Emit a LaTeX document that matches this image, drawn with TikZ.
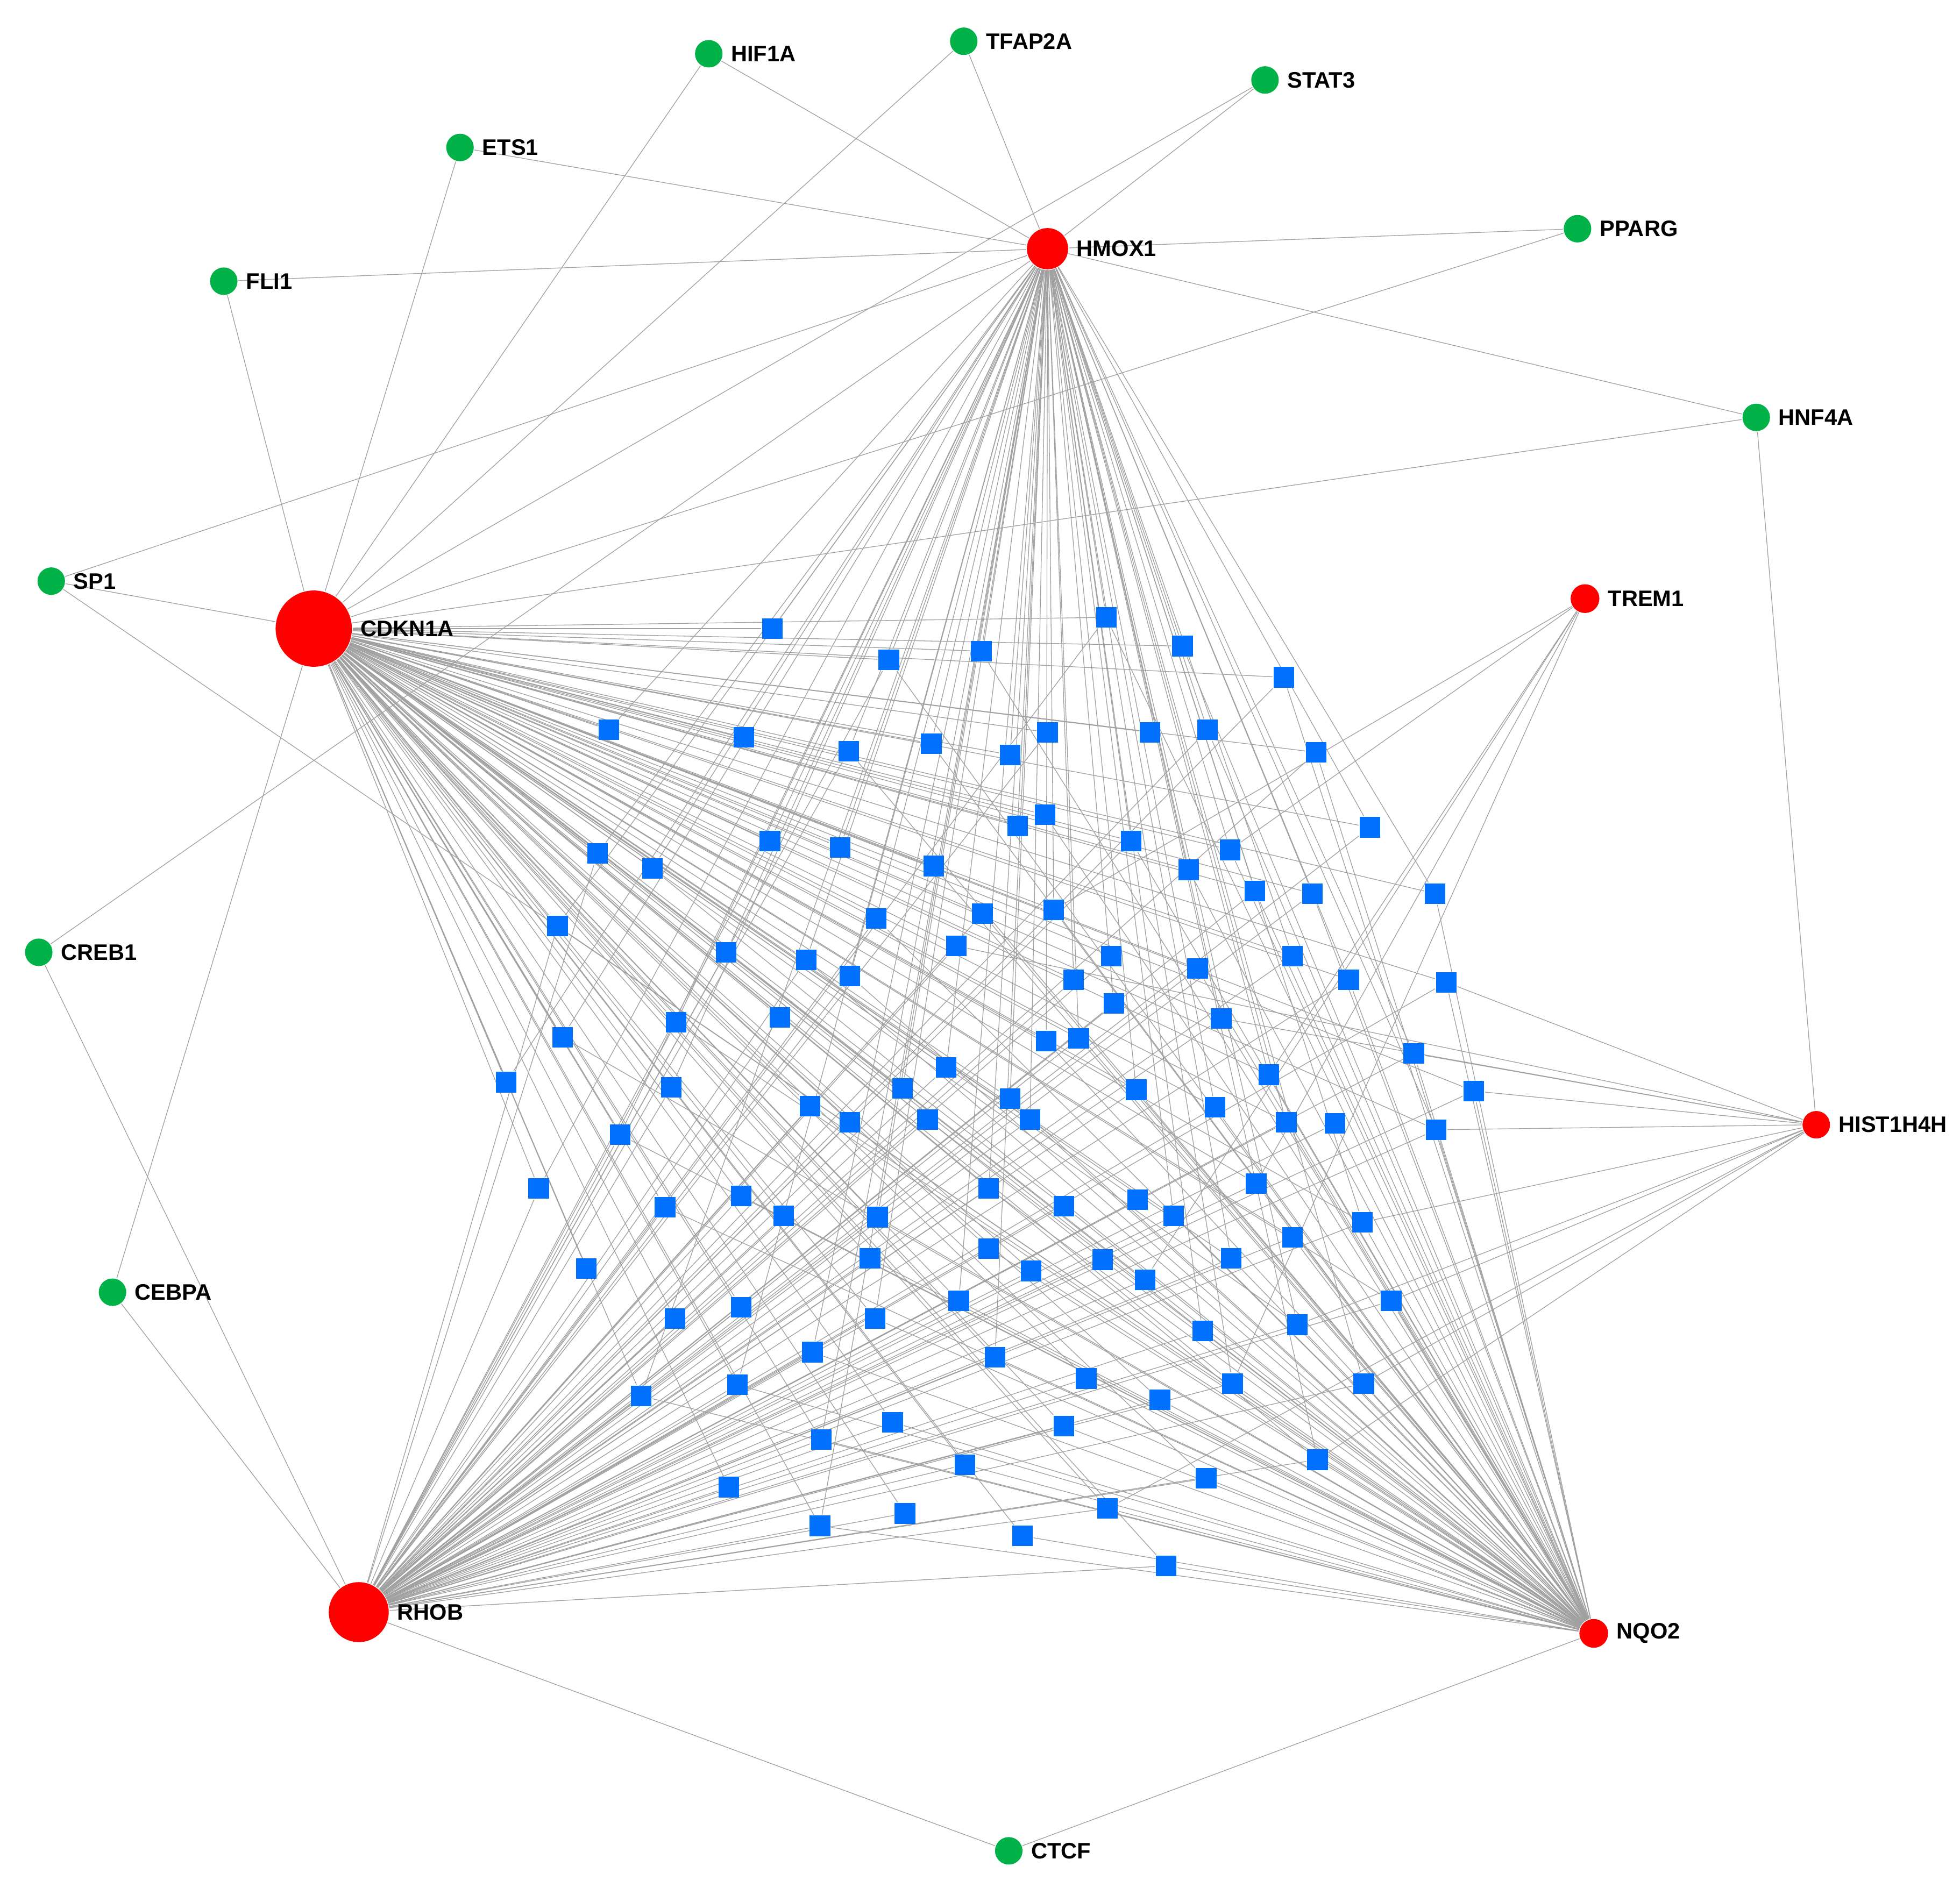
\documentclass[tikz,border=0pt]{standalone}
\usepackage{fontspec}
\setmainfont{Liberation Sans}
\pgfdeclarelayer{bg}
\pgfsetlayers{bg,main}
\definecolor{tfgreen}{RGB}{0,178,72}
\definecolor{mirblue}{RGB}{0,112,255}
\definecolor{edgegray}{RGB}{160,160,160}
\def\mirlist{1/885/494,2/618/503,3/946/517,4/785/521,5/711/528,6/1027/542,7/487/584,8/838/586,9/920/586,10/966/584,
11/595/590,12/745/595,13/679/601,14/808/604,15/1053/602,16/836/652,17/814/661,18/1096/662,19/616/673,20/905/673,
21/672/678,22/984/680,23/478/683,24/747/693,25/522/695,26/951/696,27/1004/713,28/1050/715,29/1148/715,30/843/728,
31/786/731,32/701/735,33/446/741,34/765/757,35/581/762,36/889/765,37/1034/765,38/645/768,39/958/775,40/680/781,
41/859/784,42/1079/784,43/1157/786,44/891/803,45/977/815,46/541/818,47/624/814,48/450/830,49/863/831,50/837/833,
51/1131/843,52/757/854,53/1015/860,54/405/866,55/537/870,56/722/871,57/909/872,58/1179/873,59/808/879,60/648/885,
61/972/886,62/824/896,63/742/896,64/680/898,65/1029/898,66/1068/899,67/1149/904,68/496/908,69/431/951,70/791/951,
71/1005/947,72/593/957,73/910/960,74/851/965,75/532/966,76/627/973,77/702/974,78/939/973,79/1090/978,80/1034/990,
81/791/999,82/696/1007,83/882/1008,84/985/1007,85/469/1015,86/825/1017,87/916/1024,88/767/1041,89/1113/1041,90/593/1046,
91/540/1055,92/700/1055,93/1038/1060,94/962/1065,95/650/1082,96/796/1086,97/869/1103,98/986/1107,99/1091/1107,100/590/1108,
101/513/1117,102/928/1120,103/714/1138,104/851/1141,105/657/1152,106/1054/1168,107/772/1172,108/965/1183,109/583/1190,110/886/1207,
111/724/1211,112/656/1221,113/818/1229,114/933/1253}
\begin{document}
\begin{tikzpicture}[x=0.1mm,y=-0.1mm,
  every label/.style={font=\fontsize{5.1pt}{6pt}\selectfont\bfseries,inner sep=0.2mm,text=black},
  label distance=0.35mm,
  tf/.style={circle,fill=tfgreen,inner sep=0pt,minimum size=2.2mm},
  gene/.style={circle,fill=red,inner sep=0pt},
  mir/.style={rectangle,fill=mirblue,inner sep=0pt,minimum size=1.65mm},
  edge/.style={draw=edgegray,line width=0.16pt}]
\useasboundingbox (0,0) rectangle (1568,1516);
% transcription factors
\node[tf,label=right:HIF1A] (HIF1A) at (567,43) {};
\node[tf,label=right:TFAP2A] (TFAP2A) at (771,33) {};
\node[tf,label=right:STAT3] (STAT3) at (1012,64) {};
\node[tf,label=right:ETS1] (ETS1) at (368,118) {};
\node[tf,label=right:PPARG] (PPARG) at (1262,183) {};
\node[tf,label=right:FLI1] (FLI1) at (179,225) {};
\node[tf,label=right:HNF4A] (HNF4A) at (1405,334) {};
\node[tf,label=right:SP1] (SP1) at (41,465) {};
\node[tf,label=right:CREB1] (CREB1) at (31,762) {};
\node[tf,label=right:CEBPA] (CEBPA) at (90,1034) {};
\node[tf,label=right:CTCF] (CTCF) at (807,1481) {};
% genes
\node[gene,minimum size=3.3mm,label=right:HMOX1] (HMOX1) at (838,199) {};
\node[gene,minimum size=6.1mm,label=right:CDKN1A] (CDKN1A) at (251,503) {};
\node[gene,minimum size=2.3mm,label=right:TREM1] (TREM1) at (1268,479) {};
\node[gene,minimum size=2.2mm,label=right:HIST1H4H] (HIST1H4H) at (1453,900) {};
\node[gene,minimum size=4.8mm,label=right:RHOB] (RHOB) at (287,1290) {};
\node[gene,minimum size=2.3mm,label=right:NQO2] (NQO2) at (1275,1307) {};
% miRNA squares
\foreach \i/\x/\y in \mirlist {\node[mir] (m\i) at (\x,\y) {};}
\begin{pgfonlayer}{bg}
\foreach \a/\b in {HIF1A/HMOX1,HIF1A/CDKN1A,TFAP2A/HMOX1,TFAP2A/CDKN1A,STAT3/HMOX1,STAT3/CDKN1A,
  ETS1/HMOX1,ETS1/CDKN1A,FLI1/HMOX1,FLI1/CDKN1A,PPARG/HMOX1,PPARG/CDKN1A,HNF4A/HMOX1,HNF4A/CDKN1A,
  HNF4A/HIST1H4H,SP1/CDKN1A,SP1/HMOX1,SP1/NQO2,CREB1/HMOX1,CREB1/RHOB,CEBPA/CDKN1A,CEBPA/RHOB,
  CTCF/RHOB,CTCF/NQO2}
  {\draw[edge] (\a) -- (\b);}
\pgfmathsetseed{7}
\foreach \i/\x/\y in \mirlist {
  \pgfmathtruncatemacro\ok{rnd<0.92}
  \ifnum\ok=1 \draw[edge] (m\i) -- (CDKN1A);\fi
  \pgfmathtruncatemacro\ok{rnd<min(0.95,0.4+(\y-480)/800)}
  \ifnum\ok=1 \draw[edge] (m\i) -- (RHOB);\fi
  \pgfmathtruncatemacro\ok{rnd<(0.85-(\y-480)/1200)}
  \ifnum\ok=1 \draw[edge] (m\i) -- (HMOX1);\fi
  \pgfmathtruncatemacro\ok{rnd<(0.15+(\x-400)/1200+(\y-480)/1600)}
  \ifnum\ok=1 \draw[edge] (m\i) -- (NQO2);\fi
}
\foreach \i in {67,51,58,45,34,89,79,99,106,93,110,43}
  {\draw[edge] (m\i) -- (HIST1H4H);}
\foreach \i in {22,30,53,71,87,98}
  {\draw[edge] (m\i) -- (TREM1);}
\end{pgfonlayer}
\end{tikzpicture}
\end{document}
